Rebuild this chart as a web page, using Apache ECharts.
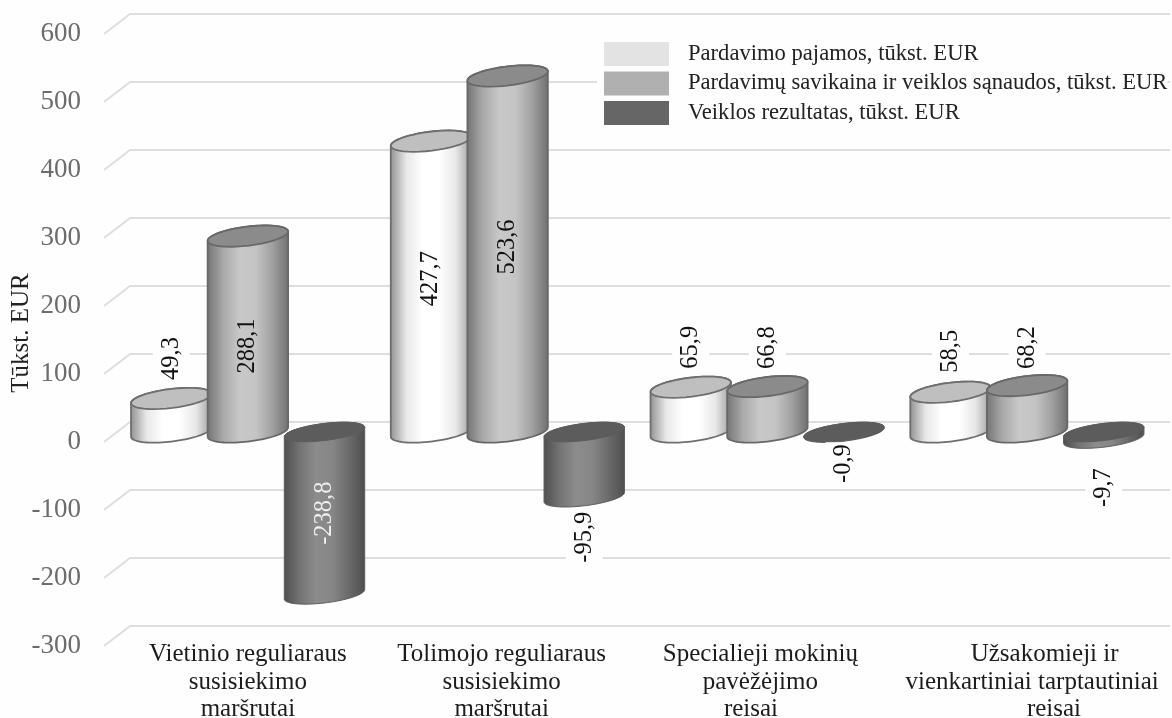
<!DOCTYPE html>
<html>
<head>
<meta charset="utf-8">
<style>
  html, body { margin: 0; padding: 0; background: #fff; }
  #chart { width: 1172px; height: 718px; }
</style>
<script src="https://cdn.jsdelivr.net/npm/echarts@6/dist/echarts.min.js"></script>
</head>
<body>
<div id="chart"></div>
<script>
const categories = [
  'Vietinio reguliaraus\nsusisiekimo\nmaršrutai',
  'Tolimojo reguliaraus\nsusisiekimo\nmaršrutai',
  'Specialieji mokinių\npavėžėjimo\nreisai   ',
  '    Užsakomieji ir\nvienkartiniai tarptautiniai\n       reisai'
]
const revenue = [49.3, 427.7, 65.9, 58.5]
const costs = [288.1, 523.6, 66.8, 68.2]
const result = [-238.8, -95.9, -0.9, -9.7]
const yTicks = [600, 500, 400, 300, 200, 100, 0, -100, -200, -300]

// how far each value label sits from the middle of its bar / from the bar end
const revenueLabelShift = [-40, -8, -40, -41]
const costsLabelShift = [12, -7, -39, -38]
const resultLabelShift = [0, 40, 31, 49]
// category labels do not sit exactly under their group in the source picture
const categoryShift = [0, -6, -7, 5]

const FONT = '"Liberation Serif", serif'
const DEPTH = 20 // floor depth of the fake 3d box, px
const RX = 40.5
const TILT = 7 * Math.PI / 180

function gradient(stops) {
  return {
    type: 'linear', x: 0, y: 0, x2: 1, y2: 0,
    colorStops: stops.map((c, i) => ({ offset: i / (stops.length - 1), color: c }))
  }
}

function ellipsePoints(cx, cy, ry, from, to) {
  const pts = []
  const n = 40
  for (let i = 0; i <= n; i++) {
    const t = from + (to - from) * i / n
    const u = RX * Math.cos(t)
    const v = ry * Math.sin(t)
    pts.push([cx + u * Math.cos(TILT) + v * Math.sin(TILT), cy - u * Math.sin(TILT) + v * Math.cos(TILT)])
  }
  return pts
}

function cylinderSeries(name, values, slot, style, labelShift) {
  return {
    name,
    type: 'custom',
    xAxisIndex: 2,
    yAxisIndex: 2,
    z: 3,
    itemStyle: { color: style.legend },
    data: values.map((v, i) => [i, v]),
    renderItem(params, api) {
      const i = api.value(0)
      const v = api.value(1)
      const band = api.size([1, 0])[0]
      const p0 = api.coord([i, 0])
      const p1 = api.coord([i, v])
      const cx = p0[0] + slot * band * 0.295
      const topY = Math.min(p0[1], p1[1])
      const bottomY = Math.max(p0[1], p1[1])
      const ry = style.ry
      const t0 = Math.atan2(ry * Math.sin(TILT), RX * Math.cos(TILT))
      const body = ellipsePoints(cx, bottomY, ry, t0, t0 + Math.PI)
        .concat(ellipsePoints(cx, topY, ry, t0 + Math.PI, t0 + 2 * Math.PI))
      const cap = ellipsePoints(cx, topY, ry, 0, 2 * Math.PI)

      const onBar = labelShift === costsLabelShift ? i < 2 : (labelShift === revenueLabelShift ? i === 1 : i === 0)
      let labelY
      if (onBar) labelY = (topY + bottomY) / 2 + labelShift[i]
      else if (v >= 0) labelY = topY + labelShift[i]
      else labelY = bottomY + labelShift[i]
      const darkInside = onBar && v < 0

      return {
        type: 'group',
        children: [
          {
            type: 'polygon',
            shape: { points: body },
            style: { fill: gradient(style.body), stroke: style.stroke, lineWidth: style.lineWidth }
          },
          {
            type: 'polygon',
            shape: { points: cap },
            style: { fill: style.cap, stroke: style.stroke, lineWidth: style.lineWidth }
          },
          {
            type: 'text',
            x: cx,
            y: labelY,
            rotation: Math.PI / 2,
            z2: 5,
            style: {
              text: String(v).replace('.', ','),
              font: '24.5px ' + FONT,
              fill: darkInside ? '#f0f0f0' : '#111',
              align: 'center',
              verticalAlign: 'middle',
              backgroundColor: onBar ? 'transparent' : '#fefefe',
              padding: onBar ? 0 : [6, 2]
            }
          }
        ]
      }
    }
  }
}

const chart = echarts.init(document.getElementById('chart'))
chart.setOption({
  backgroundColor: '#fefefe',
  animation: false,
  legend: {
    left: 597,
    top: 35,
    orient: 'vertical',
    padding: [7, 0, 7, 7],
    backgroundColor: '#fefefe',
    itemWidth: 65,
    itemHeight: 24,
    itemGap: 5.5,
    icon: 'rect',
    textStyle: { fontFamily: FONT, fontSize: 22.6, color: '#222', padding: [3, 0, 0, 14] },
    data: ['Pardavimo pajamos, tūkst. EUR', 'Pardavimų savikaina ir veiklos sąnaudos, tūkst. EUR', 'Veiklos rezultatas, tūkst. EUR']
  },
  grid: [
    { left: 130, width: 1040, top: 14, height: 612, outerBoundsMode: 'none' }, // back wall
    { left: 104, width: 26, top: 34, height: 612, outerBoundsMode: 'none' },   // front edge, carries tick labels
    { left: 118, width: 1039, top: 24, height: 612, outerBoundsMode: 'none' }  // plane of the cylinders
  ],
  xAxis: [
    { gridIndex: 0, type: 'category', show: false, data: categories },
    { gridIndex: 1, type: 'value', show: false, min: 0, max: 1 },
    {
      gridIndex: 2,
      type: 'category',
      data: categories.map((c, i) => ({
        value: c,
        textStyle: {
          padding: categoryShift[i] < 0 ? [0, -2 * categoryShift[i], 0, 0] : [0, 0, 0, 2 * categoryShift[i]]
        }
      })),
      axisLine: { show: false },
      axisTick: { show: false },
      axisLabel: {
        interval: 0,
        margin: 5,
        fontFamily: FONT,
        fontSize: 25,
        lineHeight: 27.5,
        color: '#1c1c1c'
      }
    }
  ],
  yAxis: [
    {
      gridIndex: 0, type: 'value', min: -300, max: 600, interval: 100,
      axisLine: { show: false }, axisTick: { show: false }, axisLabel: { show: false },
      splitLine: { show: true, lineStyle: { color: '#dedede', width: 2 } }
    },
    {
      gridIndex: 1, type: 'value', min: -300, max: 600, interval: 100,
      axisLine: { show: false }, axisTick: { show: false },
      axisLabel: { margin: 23, fontFamily: FONT, fontSize: 27, color: '#6c6c6c', padding: [5, 0, 0, 0] },
      splitLine: { show: false },
      name: 'Tūkst. EUR',
      nameLocation: 'middle',
      nameRotate: 90,
      nameGap: 70,
      nameMoveOverlap: false,
      nameTextStyle: { fontFamily: FONT, fontSize: 25, color: '#222', padding: [0, 0, 0, 14] }
    },
    { gridIndex: 2, type: 'value', show: false, min: -300, max: 600, interval: 100, splitLine: { show: false } }
  ],
  series: [
    {
      // slanted stubs joining the tick labels to the back wall lines
      type: 'custom',
      xAxisIndex: 1,
      yAxisIndex: 1,
      z: 1,
      silent: true,
      data: yTicks.map(t => [t]),
      renderItem(params, api) {
        const t = api.value(0)
        const a = api.coord([0, t])
        const b = api.coord([1, t])
        return {
          type: 'line',
          shape: { x1: a[0], y1: a[1], x2: b[0], y2: b[1] - DEPTH },
          style: { stroke: '#dedede', lineWidth: 2 }
        }
      }
    },
    cylinderSeries('Pardavimo pajamos, tūkst. EUR', revenue, -1, {
      legend: '#e3e3e3', cap: '#bfbfbf', stroke: '#6e6e6e', lineWidth: 1.8, ry: 9.5,
      body: ['#8f8f8f', '#e8e8e8', '#ffffff', '#ffffff', '#e8e8e8', '#9a9a9a']
    }, revenueLabelShift),
    cylinderSeries('Pardavimų savikaina ir veiklos sąnaudos, tūkst. EUR', costs, 0, {
      legend: '#b0b0b0', cap: '#8b8b8b', stroke: '#686868', lineWidth: 1.8, ry: 9.5,
      body: ['#737373', '#a9a9a9', '#c8c8c8', '#c4c4c4', '#a0a0a0', '#6f6f6f']
    }, costsLabelShift),
    cylinderSeries('Veiklos rezultatas, tūkst. EUR', result, 1, {
      legend: '#666666', cap: '#5c5c5c', stroke: '#5c5c5c', lineWidth: 1, ry: 8.5,
      body: ['#4e4e4e', '#747474', '#8c8c8c', '#868686', '#6a6a6a', '#4e4e4e']
    }, resultLabelShift)
  ]
})
</script>
</body>
</html>
